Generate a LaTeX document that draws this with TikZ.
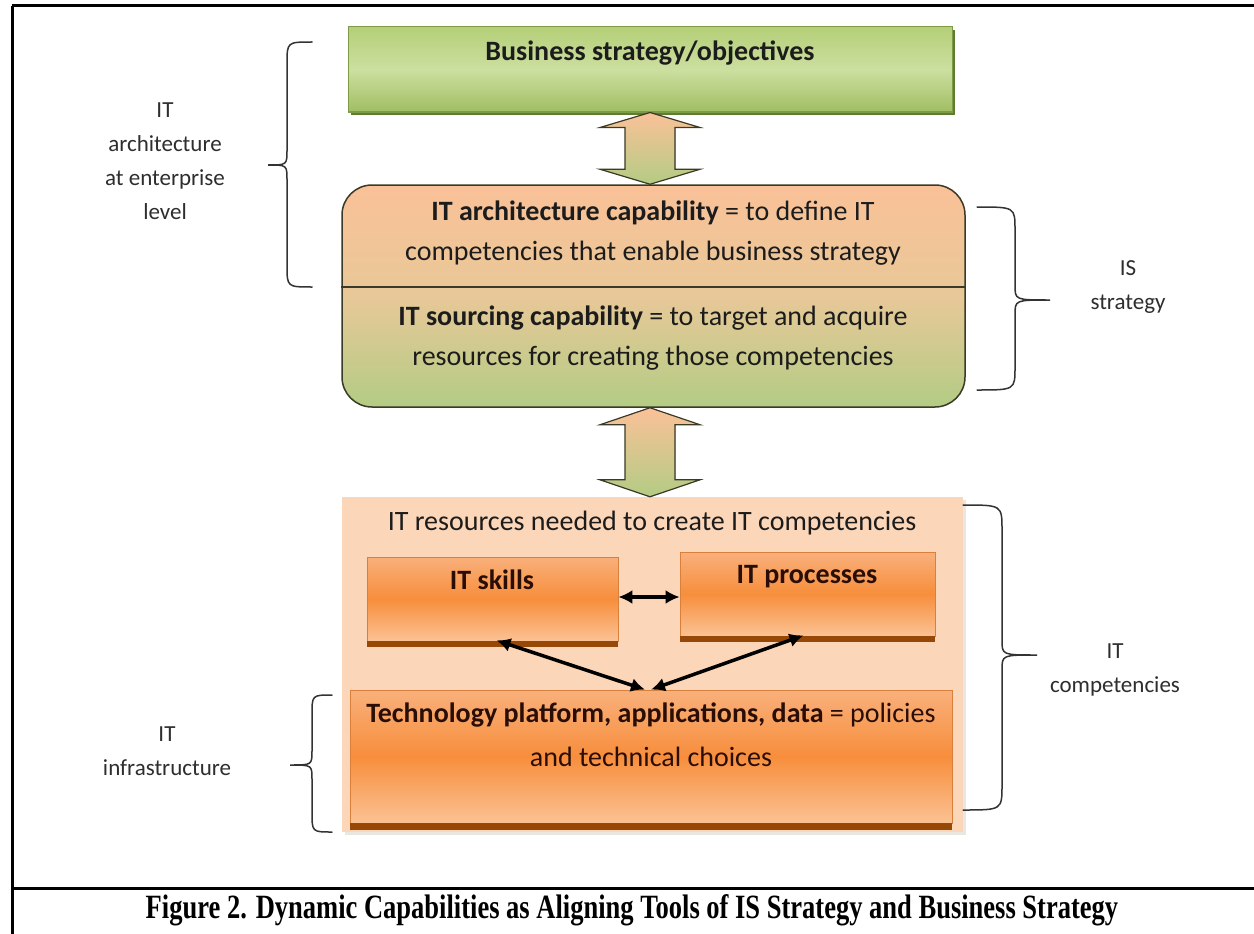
\documentclass[tikz,border=0pt]{standalone}
\usepackage{fontspec}
\setmainfont{Carlito}
\newfontfamily\capfont[FakeStretch=0.78]{Liberation Serif}
\usetikzlibrary{arrows.meta,calc,shadows}

\definecolor{frameink}{HTML}{000000}
\definecolor{ink}{HTML}{1C1C1C}
\definecolor{boxink}{HTML}{2A0E06}
\definecolor{labelink}{HTML}{2E2E2E}
\definecolor{braceink}{HTML}{333333}
\definecolor{greentop}{HTML}{B4CF78}
\definecolor{greenmid}{HTML}{CCDFA0}
\definecolor{greenbot}{HTML}{A0BE62}
\definecolor{greenedge}{HTML}{7E9C48}
\definecolor{greenshade}{HTML}{5F7D30}
\definecolor{peachtop}{HTML}{FAC198}
\definecolor{tanmid}{HTML}{E8C898}
\definecolor{olivebot}{HTML}{B3CC84}
\definecolor{capedge}{HTML}{3A3A26}
\definecolor{panelfill}{HTML}{FCD6B8}
\definecolor{panelshade}{HTML}{EAE6E2}
\definecolor{orgtop}{HTML}{F9B07C}
\definecolor{orgmid}{HTML}{F78E3C}
\definecolor{orgbot}{HTML}{FBC294}
\definecolor{orgedge}{HTML}{D9813C}
\definecolor{orgband}{HTML}{974706}

\tikzset{
  frameline/.style={draw=frameink, line width=3pt},
  greenbox/.style={draw=greenedge, line width=1pt, top color=greentop, bottom color=greenbot,
    middle color=greenmid, drop shadow={shadow xshift=3pt, shadow yshift=-3pt, fill=greenshade, opacity=1}},
  capbox/.style={draw=capedge, line width=1.5pt, rounded corners=30pt, top color=peachtop,
    bottom color=olivebot, middle color=tanmid},
  blockarrow/.style={draw=capedge, line width=1.2pt, line join=miter, top color=peachtop,
    bottom color=olivebot},
  panel/.style={fill=panelfill, draw=none,
    drop shadow={shadow xshift=3pt, shadow yshift=-3pt, fill=panelshade, opacity=1}},
  orangebox/.style={draw=orgedge, line width=0.8pt, top color=orgtop, bottom color=orgbot,
    middle color=orgmid},
  band/.style={fill=orgband, draw=none},
  maintext/.style={text=ink, align=center, font=\fontsize{28}{40}\selectfont, inner sep=0pt},
  sidelabel/.style={text=labelink, align=center, font=\fontsize{23}{34}\selectfont, inner sep=0pt},
  brace/.style={draw=braceink, line width=1.5pt, line cap=round},
  linkarrow/.style={draw=black, line width=3.5pt, {Latex[length=14pt,width=14pt]}-{Latex[length=14pt,width=14pt]}},
}

\begin{document}
\begin{tikzpicture}[x=1pt, y=-1pt]
\useasboundingbox (0,0) rectangle (1254,934);
\fill[white] (0,0) rectangle (1254,934);

% outer frame and caption rule
\draw[frameline] (12,6) -- (1256,6);
\draw[frameline] (12,6) -- (12,936);
\draw[frameline] (12,888) -- (1256,888);

% business strategy block
\node[greenbox, minimum width=604pt, minimum height=85pt, inner sep=0pt] (biz) at (650,69.5) {};
\node[maintext, font=\fontsize{28}{34}\selectfont\bfseries] (bizTxt) at (650,53) {Business strategy/objectives};

% capability block (two halves)
\node[capbox, minimum width=623pt, minimum height=222pt, inner sep=0pt] (capab) at (653.5,296) {};
\coordinate (divL) at (capab.west |- 0,287);
\coordinate (divR) at (capab.east |- 0,287);
\draw[draw=capedge, line width=1.5pt] (divL) -- (divR);
\node[maintext] (archTxt) at (653,233) {\textbf{IT architecture capability} = to define IT\\competencies that enable business strategy};
\node[maintext] (srcTxt) at (653,338) {\textbf{IT sourcing capability} = to target and acquire\\resources for creating those competencies};

% resources panel
\node[panel, minimum width=621pt, minimum height=335pt, inner sep=0pt] (res) at (652.5,664.5) {};
\node[maintext] (resTxt) at (652,523) {IT resources needed to create IT competencies};

% IT skills
\node[orangebox, minimum width=251pt, minimum height=84pt, inner sep=0pt] (skills) at (492.5,599) {};
\fill[band] ([yshift=-6pt]skills.south west) rectangle (skills.south east);
\node[maintext, text=boxink, font=\fontsize{28}{34}\selectfont\bfseries] (skillsTxt) at (492,580) {IT skills};

% IT processes
\node[orangebox, minimum width=255pt, minimum height=84pt, inner sep=0pt] (procs) at (807.5,594) {};
\fill[band] ([yshift=-6pt]procs.south west) rectangle (procs.south east);
\node[maintext, text=boxink, font=\fontsize{28}{34}\selectfont\bfseries] (procsTxt) at (807,577) {IT processes};

% technology platform
\node[orangebox, minimum width=602pt, minimum height=133pt, inner sep=0pt] (tech) at (651,756.5) {};
\fill[band] ([yshift=-7pt]tech.south west) rectangle (tech.south east);
\node[maintext, text=boxink, font=\fontsize{28}{44}\selectfont] (techTxt) at (651,735) {\textbf{Technology platform, applications, data} = policies\\and technical choices};

% block arrows between the levels
\coordinate (upA) at (biz.south);
\coordinate (dnA) at (biz.south |- capab.north);
\filldraw[blockarrow] (upA) -- ++(50,15) -- ++(-25,0) -- ($(dnA)+(25,-15)$) -- ++(25,0) -- (dnA)
  -- ++(-50,-15) -- ++(25,0) -- ($(upA)+(-25,15)$) -- ++(-25,0) -- cycle;
\coordinate (upB) at (biz.south |- capab.south);
\coordinate (dnB) at (biz.south |- res.north);
\filldraw[blockarrow] (upB) -- ++(50,17) -- ++(-25,0) -- ($(dnB)+(25,-17)$) -- ++(25,0) -- (dnB)
  -- ++(-50,-17) -- ++(25,0) -- ($(upB)+(-25,17)$) -- ++(-25,0) -- cycle;

% links among the resources
\draw[linkarrow] (skills.east |- 0,597) -- (procs.west |- 0,597);
\draw[linkarrow] ([xshift=4pt,yshift=1pt]skills.south) -- ([xshift=-6pt]tech.north);
\draw[linkarrow] ([xshift=-4pt,yshift=1pt]procs.south) -- ([xshift=0pt]tech.north);

% braces
\draw[brace] (312,42) .. controls (287,42) .. (287,64) -- (287,150) .. controls (287,165) .. (268,165)
  .. controls (287,165) .. (287,180) -- (287,265) .. controls (287,287) .. (312,287);
\draw[brace] (332,695) .. controls (312,695) .. (312,715) -- (312,751) .. controls (312,765) .. (290,765)
  .. controls (312,765) .. (312,779) -- (312,812) .. controls (312,832) .. (332,832);
\draw[brace] (977,207) .. controls (1015,207) .. (1015,230) -- (1015,285) .. controls (1015,300) .. (1050,300)
  .. controls (1015,300) .. (1015,315) -- (1015,367) .. controls (1015,390) .. (977,390);
\draw[brace] (963,505) .. controls (1002,505) .. (1002,530) -- (1002,640) .. controls (1002,655) .. (1037,655)
  .. controls (1002,655) .. (1002,670) -- (1002,785) .. controls (1002,810) .. (963,810);

% side labels
\node[sidelabel] (lblArch) at (165,161) {IT\\architecture\\at enterprise\\level};
\node[sidelabel] (lblInfra) at (167,751) {IT\\infrastructure};
\node[sidelabel] (lblIS) at (1128,287) {IS\\strategy};
\node[sidelabel] (lblComp) at (1115,670) {IT\\competencies};

% caption
\node[inner sep=0pt, text=black, font=\capfont\bfseries\fontsize{34}{40}\selectfont] (caption) at (632,910)
  {Figure 2. Dynamic Capabilities as Aligning Tools of IS Strategy and Business Strategy};
\end{tikzpicture}
\end{document}
